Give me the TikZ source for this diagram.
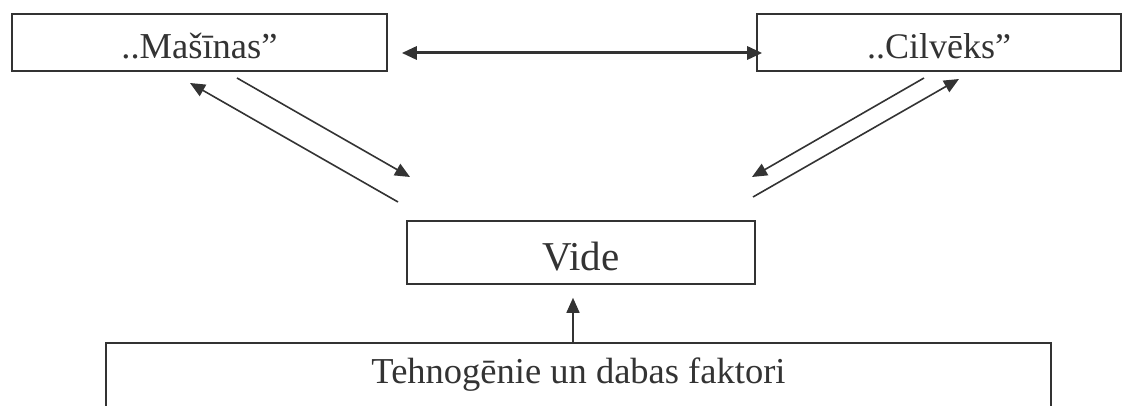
\documentclass[tikz,border=0pt]{standalone}
\usepackage{fontspec}
\setmainfont{Liberation Serif}
\usetikzlibrary{arrows.meta}
\definecolor{ink}{HTML}{333333}
\tikzset{
  box/.style={draw=ink, line width=1.6pt, text=ink, inner sep=0pt},
  arr/.style={draw=ink, line width=1.6pt, -{Triangle[length=15pt,width=13pt]}},
  darr/.style={draw=ink, line width=3pt, {Triangle[length=15pt,width=13pt]}-{Triangle[length=15pt,width=13pt]}},
}
\begin{document}
\begin{tikzpicture}[x=1pt,y=1pt]
\useasboundingbox (0,0) rectangle (1122,406);
\node[box, minimum width=375pt, minimum height=57pt, text height=33pt, text depth=0pt, font=\fontsize{36.5}{40}\selectfont] (mas) at (199.5,363.5) {..Mašīnas”};
\node[box, minimum width=364pt, minimum height=57pt, text height=33pt, text depth=0pt, font=\fontsize{36}{40}\selectfont] (cil) at (939,363.5) {..Cilvēks”};
\node[box, minimum width=348pt, minimum height=63pt, text height=37pt, text depth=0pt, font=\fontsize{41}{45}\selectfont] (vide) at (581,153.5) {Vide};
\node[box, anchor=north, minimum width=945pt, text height=41pt, text depth=60pt, font=\fontsize{36.5}{40}\selectfont] (fact) at (578.5,64) {Tehnogēnie un dabas faktori};
% coordinates of free ends
\coordinate (a1) at (398,204); \coordinate (a2) at (190,323);
\coordinate (b1) at (237,328); \coordinate (b2) at (410,229);
\coordinate (c1) at (924,328); \coordinate (c2) at (752,229);
\coordinate (d1) at (753,209); \coordinate (d2) at (959,327);
\draw[darr, shorten <=14pt, shorten >=-6pt] ([yshift=-10.5pt]mas.east) -- ([yshift=-10.5pt]cil.west);
\draw[arr] (a1) -- (a2);
\draw[arr] (b1) -- (b2);
\draw[arr] (c1) -- (c2);
\draw[arr] (d1) -- (d2);
\draw[arr, shorten >=13pt] ([xshift=-5.5pt]fact.north) -- ([xshift=-8pt]vide.south);
\end{tikzpicture}
\end{document}
